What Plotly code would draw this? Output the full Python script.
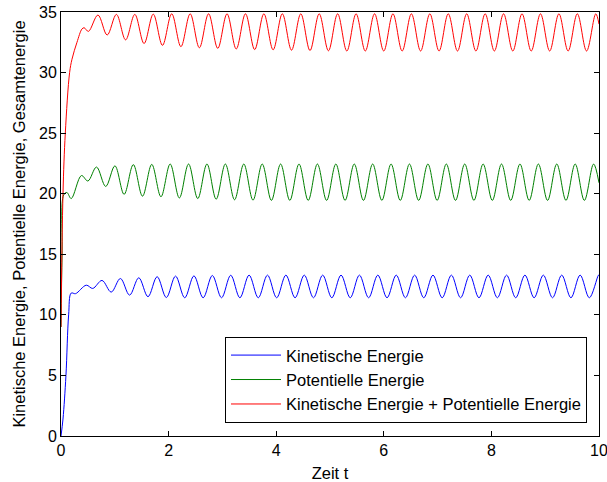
import plotly.graph_objects as go

# ---- data (extrema and transient points) ----
t_kin = [0.0, 0.037, 0.092, 0.142, 0.19, 0.27, 0.47, 0.59,
         0.762, 0.933, 1.104, 1.275, 1.446, 1.617, 1.787, 1.958, 2.129, 2.300,
         2.471, 2.642, 2.813, 2.984, 3.155, 3.325, 3.496, 3.667, 3.838, 4.009,
         4.180, 4.351, 4.522, 4.693, 4.864, 5.034, 5.205, 5.376, 5.547, 5.718,
         5.889, 6.060, 6.231, 6.402, 6.573, 6.743, 6.914, 7.085, 7.256, 7.427,
         7.598, 7.769, 7.940, 8.111, 8.282, 8.452, 8.623, 8.794, 8.965, 9.136,
         9.307, 9.478, 9.649, 9.820, 9.991, 10.0]
e_kin = [0.0, 1.4, 5.0, 10.0, 11.8, 11.75, 12.45, 12.18,
         12.84, 11.88, 13.0, 11.63, 13.06, 11.5, 13.15, 11.43, 13.2, 11.41,
         13.22, 11.41, 13.25, 11.41, 13.27, 11.41, 13.28, 11.41, 13.28, 11.41,
         13.28, 11.41, 13.28, 11.41, 13.28, 11.41, 13.28, 11.41, 13.28, 11.41,
         13.28, 11.41, 13.28, 11.41, 13.28, 11.41, 13.28, 11.41, 13.28, 11.41,
         13.28, 11.41, 13.28, 11.41, 13.28, 11.41, 13.28, 11.41, 13.28, 11.41,
         13.28, 11.41, 13.28, 11.41, 13.28, 13.27]

t_pot = [0.0, 0.02, 0.05, 0.11, 0.19, 0.38, 0.50,
         0.660, 0.831, 1.002, 1.173, 1.344, 1.515, 1.687, 1.858, 2.029, 2.200,
         2.371, 2.542, 2.713, 2.884, 3.055, 3.226, 3.398, 3.569, 3.740, 3.911,
         4.082, 4.253, 4.424, 4.595, 4.766, 4.937, 5.109, 5.280, 5.451, 5.622,
         5.793, 5.964, 6.135, 6.306, 6.477, 6.648, 6.820, 6.991, 7.162, 7.333,
         7.504, 7.675, 7.846, 8.017, 8.188, 8.359, 8.531, 8.702, 8.873, 9.044,
         9.215, 9.386, 9.557, 9.728, 9.899, 10.0]
e_pot = [9.0, 15.0, 19.9, 20.1, 19.6, 21.5, 21.05,
         22.2, 20.6, 22.3, 19.95, 22.4, 19.8, 22.42, 19.75, 22.45, 19.65,
         22.45, 19.6, 22.45, 19.55, 22.45, 19.5, 22.45, 19.47, 22.45, 19.45,
         22.45, 19.45, 22.45, 19.45, 22.45, 19.45, 22.45, 19.45, 22.45, 19.45,
         22.45, 19.45, 22.45, 19.45, 22.45, 19.45, 22.45, 19.45, 22.45, 19.45,
         22.45, 19.45, 22.45, 19.45, 22.45, 19.45, 22.45, 19.45, 22.45, 19.45,
         22.45, 19.45, 22.45, 19.45, 22.45, 20.9]

t_ges = [0.0, 0.037, 0.08, 0.16, 0.204, 0.297, 0.39, 0.43, 0.51,
         0.687, 0.858, 1.030, 1.201, 1.372, 1.544, 1.715, 1.886, 2.058, 2.229,
         2.401, 2.572, 2.743, 2.914, 3.086, 3.257, 3.429, 3.600, 3.771, 3.943,
         4.114, 4.285, 4.457, 4.628, 4.799, 4.971, 5.142, 5.313, 5.485, 5.656,
         5.828, 5.999, 6.170, 6.341, 6.513, 6.684, 6.856, 7.027, 7.198, 7.370,
         7.541, 7.712, 7.884, 8.055, 8.226, 8.398, 8.569, 8.740, 8.912, 9.083,
         9.255, 9.426, 9.597, 9.769, 9.940, 10.0]
e_ges = [9.0, 20.0, 25.0, 30.0, 31.1, 32.5, 33.6, 33.7, 33.4,
         34.75, 33.1, 34.8, 32.7, 34.8, 32.4, 34.82, 32.25, 34.85, 32.14,
         34.85, 32.05, 34.85, 32.0, 34.85, 31.95, 34.85, 31.9, 34.85, 31.88,
         34.85, 31.85, 34.85, 31.82, 34.85, 31.8, 34.85, 31.78, 34.85, 31.78,
         34.85, 31.78, 34.85, 31.78, 34.85, 31.78, 34.85, 31.78, 34.85, 31.78,
         34.85, 31.78, 34.85, 31.78, 34.85, 31.78, 34.85, 31.78, 34.85, 31.78,
         34.85, 31.78, 34.85, 31.78, 34.85, 34.0]

names = ["Kinetische Energie", "Potentielle Energie",
         "Kinetische Energie + Potentielle Energie"]
colors = ["#0000FF", "#008000", "#FF0000"]

x_ticks = [0, 2, 4, 6, 8, 10]
y_ticks = [0, 5, 10, 15, 20, 25, 30, 35]

FONT = "Liberation Sans, Arial, Helvetica, sans-serif"
FS_TICK = 16
FS_TXT = 16.5

fig = go.Figure()
for tx, ey, nm, col in zip([t_kin, t_pot, t_ges], [e_kin, e_pot, e_ges], names, colors):
    fig.add_trace(go.Scatter(x=tx, y=ey, mode="lines", name=nm,
                             line=dict(color=col, width=1, shape="spline", smoothing=1.0)))

axis_common = dict(showgrid=False, zeroline=False, showline=True, linecolor="black",
                   linewidth=1, mirror="ticks", ticks="inside", ticklen=5,
                   tickcolor="black", automargin=False, ticklabeloverflow="allow",
                   tickfont=dict(family=FONT, size=FS_TICK, color="black"))

fig.update_layout(
    width=607, height=482,
    margin=dict(l=61, r=8, t=12, b=46),
    paper_bgcolor="white", plot_bgcolor="white",
    font=dict(family=FONT, size=FS_TXT, color="black"),
    showlegend=True,
    legend=dict(x=0.9777, y=0.031, xanchor="right", yanchor="bottom",
                bordercolor="black", borderwidth=1, bgcolor="white",
                font=dict(family=FONT, size=FS_TXT, color="black"),
                tracegroupgap=0, itemwidth=50),
    xaxis=dict(range=[0, 10], tickvals=x_ticks, ticktext=[str(v) for v in x_ticks],
               title=dict(text="Zeit t", standoff=11, font=dict(family=FONT, size=FS_TXT)),
               **axis_common),
    yaxis=dict(range=[0, 35], tickvals=y_ticks, ticktext=[str(v) for v in y_ticks],
               title=dict(text="Kinetische Energie, Potentielle Energie, Gesamtenergie",
                          standoff=9, font=dict(family=FONT, size=FS_TXT)),
               **axis_common),
)

fig.write_html("out.html", config={"displayModeBar": False},
               post_script="document.body.style.margin='0';document.body.style.overflow='hidden';")
